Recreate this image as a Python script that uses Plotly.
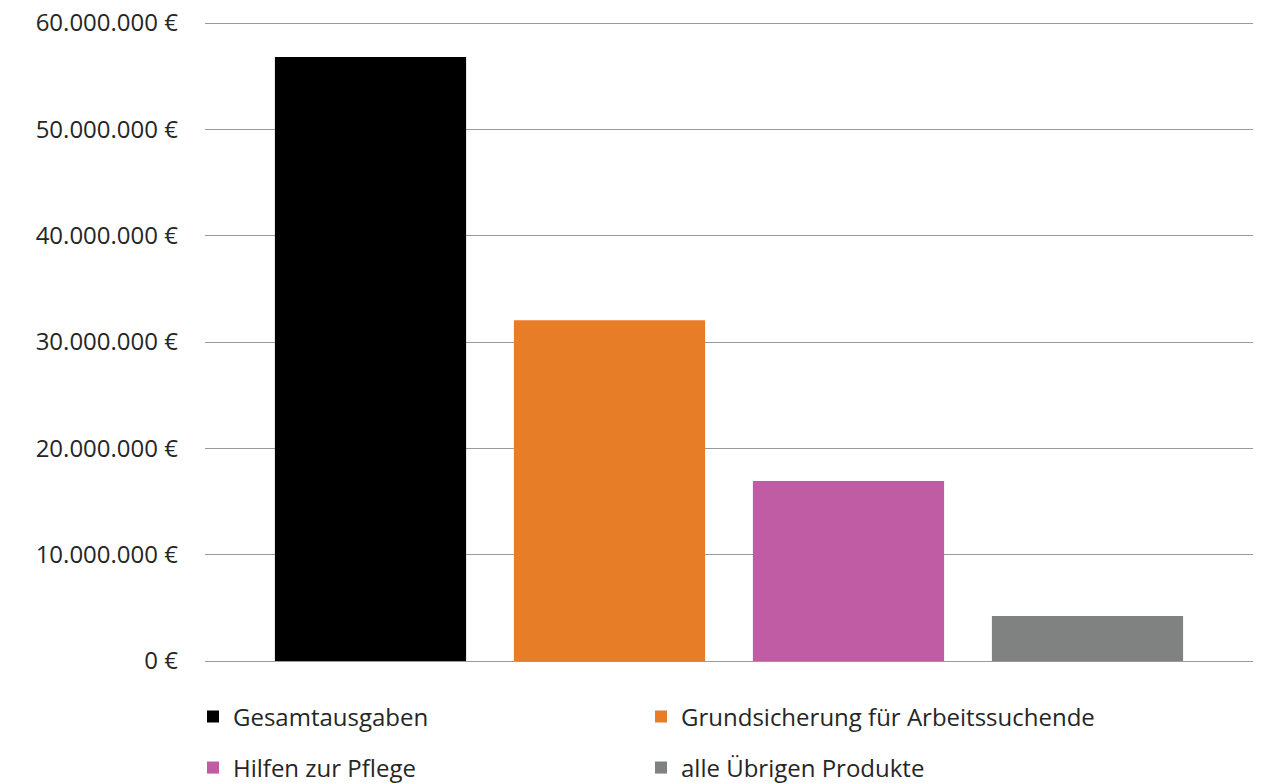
import plotly.graph_objects as go

# Ausgaben nach Produktbereichen
series_names = [
    "Gesamtausgaben",
    "Grundsicherung für Arbeitssuchende",
    "Hilfen zur Pflege",
    "alle Übrigen Produkte",
]
series_values = [56_800_000, 32_050_000, 16_930_000, 4_230_000]
series_colors = ["#000000", "#E87D28", "#C05CA3", "#7F8281"]

tick_values = [0, 10_000_000, 20_000_000, 30_000_000, 40_000_000, 50_000_000, 60_000_000]
tick_labels = ["0 €", "10.000.000 €", "20.000.000 €", "30.000.000 €",
               "40.000.000 €", "50.000.000 €", "60.000.000 €"]

FONT = "'Open Sans', sans-serif"
TEXT = "#262626"
SIZE = 24

# one legend box per entry, laid out as a 2x2 grid below the plot
legend_ids = ["legend", "legend2", "legend3", "legend4"]
legend_x = [193, 641, 193, 641]
legend_y = [717, 717, 768, 768]

fig = go.Figure()
for name, val, col, lg in zip(series_names, series_values, series_colors, legend_ids):
    fig.add_trace(go.Bar(
        x=["Ausgaben"], y=[val], name=name,
        marker=dict(color=col, line=dict(width=0)),
        legend=lg,
    ))

legend_layout = {}
for lg, lx, ly in zip(legend_ids, legend_x, legend_y):
    legend_layout[lg] = dict(
        orientation="h",
        xref="container", yref="container",
        x=lx / 1265, y=1 - ly / 783,
        xanchor="left", yanchor="middle",
        font=dict(family=FONT, size=SIZE, color=TEXT),
        bgcolor="rgba(0,0,0,0)",
        itemclick=False, itemdoubleclick=False,
    )

fig.update_layout(
    width=1265, height=783,
    margin=dict(l=205, r=12, t=22, b=122, autoexpand=False),
    paper_bgcolor="white", plot_bgcolor="white",
    barmode="group", bargap=0.0878, bargroupgap=0.2,
    font=dict(family=FONT, size=SIZE, color=TEXT),
    showlegend=True,
    xaxis=dict(showticklabels=False, showgrid=False, zeroline=False,
               showline=False, ticks="", automargin=False),
    yaxis=dict(
        range=[0, 60_100_000], automargin=False,
        tickvals=tick_values, ticktext=tick_labels,
        showgrid=True, gridcolor="#9A9A9A", gridwidth=1.3,
        zeroline=True, zerolinecolor="#9A9A9A", zerolinewidth=1.3,
        showline=False, ticks="", ticklabelstandoff=26,
        tickfont=dict(family=FONT, size=SIZE, color=TEXT),
    ),
    **legend_layout,
)

fig.write_html("out.html")
